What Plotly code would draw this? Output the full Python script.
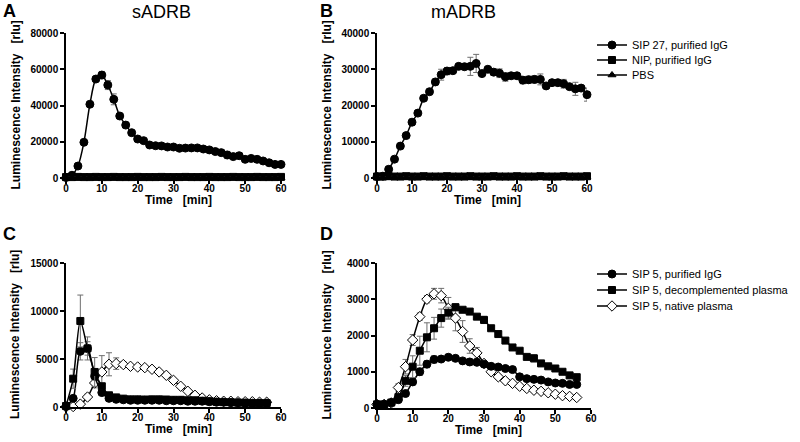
import plotly.graph_objects as go

# ---------------- data ----------------
t_ab = [0, 1.67, 3.33, 5, 6.67, 8.33, 10, 11.67, 13.33, 15, 16.67, 18.33, 20, 21.67, 23.33, 25,
        26.67, 28.33, 30, 31.67, 33.33, 35, 36.67, 38.33, 40, 41.67, 43.33, 45, 46.67, 48.33,
        50, 51.67, 53.33, 55, 56.67, 58.33, 60]

a_sip27 = [300, 1500, 6600, 19700, 40700, 54600, 56800, 51300, 43400, 34200, 29200, 25000, 21500,
           20600, 18200, 17800, 17700, 17100, 17100, 16400, 16500, 16600, 16600, 16000, 15500,
           14600, 14000, 12700, 11800, 12300, 10300, 10800, 10300, 9400, 8400, 7500, 7500]
a_sip27_err = [300, 400, 500, 600, 700, 800, 2000, 2500, 3000, 800, 1500, 600, 500, 500, 500, 500,
               500, 500, 500, 500, 500, 500, 500, 500, 600, 700, 1500, 2000, 800, 1500, 600, 700,
               1500, 700, 1500, 700, 600]
a_nip = [500, 500, 600, 500, 500, 600, 500, 500, 600, 500, 500, 500, 600, 500, 500, 500, 600, 500,
         500, 500, 600, 500, 500, 500, 600, 500, 500, 500, 600, 500, 500, 500, 600, 500, 500, 500, 600]
a_pbs = [200, 200, 200, 300, 200, 200, 200, 300, 200, 200, 200, 300, 200, 200, 200, 300, 200, 200,
         200, 300, 200, 200, 200, 300, 200, 200, 200, 300, 200, 200, 200, 300, 200, 200, 200, 300, 200]

b_sip27 = [400, 500, 2400, 5200, 8800, 11700, 15400, 17900, 22000, 23800, 26500, 28500, 29500,
           29600, 30800, 30700, 30800, 31600, 28800, 30000, 29200, 28900, 27900, 28200, 28200,
           27000, 27100, 27200, 27200, 25400, 26300, 26300, 26000, 25200, 24600, 24800, 23000]
b_sip27_err = [200, 200, 300, 400, 500, 500, 800, 600, 500, 600, 800, 1500, 1000, 500, 500, 800,
               2500, 2500, 500, 500, 900, 1200, 1200, 500, 500, 1000, 1000, 1000, 1500, 600, 600,
               600, 1200, 600, 1800, 600, 1800]
b_nip = [400, 400, 500, 400, 400, 500, 400, 400, 500, 400, 400, 400, 500, 400, 400, 400, 500, 400,
         400, 400, 500, 400, 400, 400, 500, 400, 400, 400, 500, 400, 400, 400, 500, 400, 400, 400, 500]
b_pbs = [200, 200, 200, 300, 200, 200, 200, 300, 200, 200, 200, 300, 200, 200, 200, 300, 200, 200,
         200, 300, 200, 200, 200, 300, 200, 200, 200, 300, 200, 200, 200, 300, 200, 200, 200, 300, 200]

t_cd = [0, 2, 4, 6, 8, 10, 12, 14, 16, 18, 20, 22, 24, 26, 28, 30, 32, 34, 36, 38, 40, 42, 44,
        46, 48, 50, 52, 54, 56]

c_igg = [100, 900, 5800, 6100, 3200, 1500, 900, 800, 750, 700, 700, 700, 700, 700, 650, 650, 650,
         600, 600, 600, 550, 500, 500, 450, 450, 400, 400, 400, 400]
c_igg_err = [50, 200, 900, 700, 300, 200, 100, 100, 100, 100, 100, 100, 100, 100, 100, 100, 100,
             100, 100, 100, 100, 100, 100, 100, 100, 100, 100, 100, 100]
c_decomp = [100, 2950, 8960, 6100, 3650, 2160, 1220, 1000, 870, 800, 800, 780, 800, 800, 780, 750,
            750, 700, 700, 650, 600, 550, 500, 500, 450, 450, 400, 400, 400]
c_decomp_err = [50, 1000, 2700, 1200, 1500, 300, 200, 100, 100, 100, 100, 100, 100, 100, 100, 100,
                100, 100, 100, 100, 100, 100, 100, 100, 100, 100, 100, 100, 100]
c_native = [0, 50, 300, 1040, 2500, 3650, 4450, 4520, 4420, 4240, 4170, 4100, 3930, 3650, 3300,
            2780, 2160, 1640, 1220, 940, 750, 650, 600, 600, 550, 550, 550, 500, 500]
c_native_err = [50, 50, 100, 300, 500, 1700, 1200, 600, 300, 200, 150, 150, 150, 150, 150, 150,
                150, 150, 100, 100, 100, 100, 100, 100, 100, 100, 100, 100, 100]

d_igg = [100, 100, 150, 230, 400, 720, 1000, 1210, 1340, 1350, 1400, 1370, 1300, 1270, 1260, 1210,
         1150, 1130, 1090, 1060, 860, 810, 790, 770, 720, 690, 680, 650, 650]
d_igg_err = [30, 30, 30, 40, 60, 80, 100, 100, 100, 60, 80, 50, 50, 80, 50, 50, 50, 50, 50, 80,
             80, 50, 50, 50, 50, 50, 50, 50, 50]
d_decomp = [100, 100, 150, 300, 750, 1140, 1580, 1950, 2200, 2480, 2630, 2780, 2710, 2660, 2520,
            2430, 2200, 2040, 1860, 1670, 1580, 1410, 1370, 1230, 1150, 1090, 1000, 900, 850]
d_decomp_err = [30, 30, 30, 60, 150, 300, 400, 400, 300, 250, 150, 100, 60, 60, 60, 100, 60, 60,
                60, 60, 60, 60, 100, 60, 60, 80, 60, 60, 60]
d_native = [100, 100, 140, 565, 1140, 1875, 2520, 3000, 3150, 3100, 2750, 2480, 2110, 1710, 1520,
            1230, 1000, 860, 750, 680, 600, 540, 490, 460, 420, 380, 340, 320, 290]
d_native_err = [30, 30, 40, 100, 200, 150, 100, 100, 150, 200, 300, 350, 300, 200, 150, 80, 60,
                60, 50, 50, 50, 50, 50, 50, 50, 50, 50, 50, 50]

legend_ab = ["SIP 27, purified IgG", "NIP, purified IgG", "PBS"]
legend_cd = ["SIP 5, purified IgG", "SIP 5, decomplemented plasma", "SIP 5, native plasma"]
panel_titles = ["sADRB", "mADRB"]
panel_letters = ["A", "B", "C", "D"]

# ---------------- figure ----------------
W, H = 800, 442
FONT = "Liberation Sans, Arial, sans-serif"
ERRC = "#6e6e6e"

fig = go.Figure()

def px_x(a, b):
    return [a / W, b / W]

def px_y(top, bottom):
    return [1 - bottom / H, 1 - top / H]

def add_series(x, y, err, xa, ya, symbol, size, name, legend, showlegend, fill="black"):
    fig.add_trace(go.Scatter(
        x=x, y=y, xaxis=xa, yaxis=ya, mode="lines+markers", name=name,
        line=dict(color="black", width=1.5, shape="spline", smoothing=0.8),
        marker=dict(symbol=symbol, size=size, color=fill, line=dict(color="black", width=1)),
        error_y=dict(type="data", array=err, visible=True, color=ERRC, thickness=1, width=3),
        cliponaxis=False, showlegend=showlegend, legend=legend,
    ))

zero_err = [150] * len(t_ab)

# Panel A
add_series(t_ab, a_sip27, a_sip27_err, "x", "y", "circle", 8, legend_ab[0], "legend", True)
add_series(t_ab, a_nip, zero_err, "x", "y", "square", 7, legend_ab[1], "legend2", True)
add_series(t_ab, a_pbs, zero_err, "x", "y", "triangle-up", 7, legend_ab[2], "legend3", True)
# Panel B
add_series(t_ab, b_sip27, b_sip27_err, "x2", "y2", "circle", 8, legend_ab[0], "legend", False)
add_series(t_ab, b_nip, zero_err, "x2", "y2", "square", 7, legend_ab[1], "legend2", False)
add_series(t_ab, b_pbs, zero_err, "x2", "y2", "triangle-up", 7, legend_ab[2], "legend3", False)
# Panel C
add_series(t_cd, c_native, c_native_err, "x3", "y3", "diamond", 8, legend_cd[2], "legend6", False, fill="white")
add_series(t_cd, c_igg, c_igg_err, "x3", "y3", "circle", 8, legend_cd[0], "legend4", False)
add_series(t_cd, c_decomp, c_decomp_err, "x3", "y3", "square", 7, legend_cd[1], "legend5", False)
# Panel D
add_series(t_cd, d_native, d_native_err, "x4", "y4", "diamond", 8, legend_cd[2], "legend6", True, fill="white")
add_series(t_cd, d_igg, d_igg_err, "x4", "y4", "circle", 8, legend_cd[0], "legend4", True)
add_series(t_cd, d_decomp, d_decomp_err, "x4", "y4", "square", 7, legend_cd[1], "legend5", True)

tickfont = dict(family=FONT, size=10, color="black", weight="bold")

def xaxis(dom, anchor):
    return dict(domain=dom, anchor=anchor, range=[0, 60], dtick=10, tick0=0,
                showline=True, linecolor="black", linewidth=1.5, ticks="outside",
                ticklen=4, tickwidth=1.5, tickcolor="black", showgrid=False,
                zeroline=False, tickfont=tickfont, fixedrange=True, automargin=False,
                ticklabelstandoff=-4)

def yaxis(dom, anchor, top, dt):
    return dict(domain=dom, anchor=anchor, range=[0, top], dtick=dt, tick0=0,
                showline=True, linecolor="black", linewidth=1.5, ticks="outside",
                ticklen=4, tickwidth=1.5, tickcolor="black", showgrid=False,
                zeroline=False, tickfont=tickfont, tickformat="d", fixedrange=True,
                automargin=False)

geo = {
    "A": (66, 281, 33, 178),
    "B": (377, 587, 33, 178),
    "C": (66, 281, 263, 407),
    "D": (377, 591, 263, 408),
}

fig.update_layout(
    xaxis=xaxis(px_x(geo["A"][0], geo["A"][1]), "y"),
    yaxis=yaxis(px_y(geo["A"][2], geo["A"][3]), "x", 80000, 20000),
    xaxis2=xaxis(px_x(geo["B"][0], geo["B"][1]), "y2"),
    yaxis2=yaxis(px_y(geo["B"][2], geo["B"][3]), "x2", 40000, 10000),
    xaxis3=xaxis(px_x(geo["C"][0], geo["C"][1]), "y3"),
    yaxis3=yaxis(px_y(geo["C"][2], geo["C"][3]), "x3", 15000, 5000),
    xaxis4=xaxis(px_x(geo["D"][0], geo["D"][1]), "y4"),
    yaxis4=yaxis(px_y(geo["D"][2], geo["D"][3]), "x4", 4000, 1000),
)

legfont = dict(family=FONT, size=11, color="black")
def leg(xpx, ypx):
    return dict(x=xpx / W, y=1 - ypx / H, xanchor="left", yanchor="middle",
                font=legfont, bgcolor="rgba(0,0,0,0)", borderwidth=0,
                itemwidth=30, tracegroupgap=0)

LX = 592
fig.update_layout(
    legend=leg(LX, 45), legend2=leg(LX, 60), legend3=leg(LX, 75),
    legend4=leg(LX, 274), legend5=leg(LX, 290), legend6=leg(LX, 306),
)

ann = []
ytitle = "Luminescence Intensity\u00a0\u00a0\u00a0[rlu]"
xtitle = "Time\u00a0\u00a0\u00a0[min]"
tfont = dict(family=FONT, size=12, color="black", weight="bold")
for key, (x0, x1, y0, y1) in geo.items():
    ann.append(dict(text=ytitle, x=(x0 - 51) / W, y=1 - ((y0 + y1) / 2) / H, xref="paper",
                    yref="paper", textangle=-90, showarrow=False, font=tfont,
                    xanchor="center", yanchor="middle"))
    ann.append(dict(text=xtitle, x=((x0 + x1) / 2 + 5) / W, y=1 - (y1 + 22) / H, xref="paper",
                    yref="paper", showarrow=False, font=tfont, xanchor="center", yanchor="middle"))

letter_pos = {"A": (9, 11), "B": (326, 11), "C": (9, 234), "D": (326, 234)}
for L in panel_letters:
    lx, ly = letter_pos[L]
    ann.append(dict(text=L, x=lx / W, y=1 - ly / H, xref="paper", yref="paper", showarrow=False,
                    font=dict(family=FONT, size=18, color="black", weight="bold"),
                    xanchor="center", yanchor="middle"))

for title, cx in zip(panel_titles, [161, 463]):
    ann.append(dict(text=title, x=cx / W, y=1 - 12 / H, xref="paper", yref="paper",
                    showarrow=False, font=dict(family=FONT, size=18, color="black"),
                    xanchor="center", yanchor="middle"))

fig.update_layout(
    width=W, height=H, margin=dict(l=0, r=0, t=0, b=0, autoexpand=False),
    paper_bgcolor="white", plot_bgcolor="white",
    annotations=ann, font=dict(family=FONT, color="black"),
)

fig.write_html("out.html", config={"displayModeBar": False},
               post_script="document.body.style.margin='0';")
